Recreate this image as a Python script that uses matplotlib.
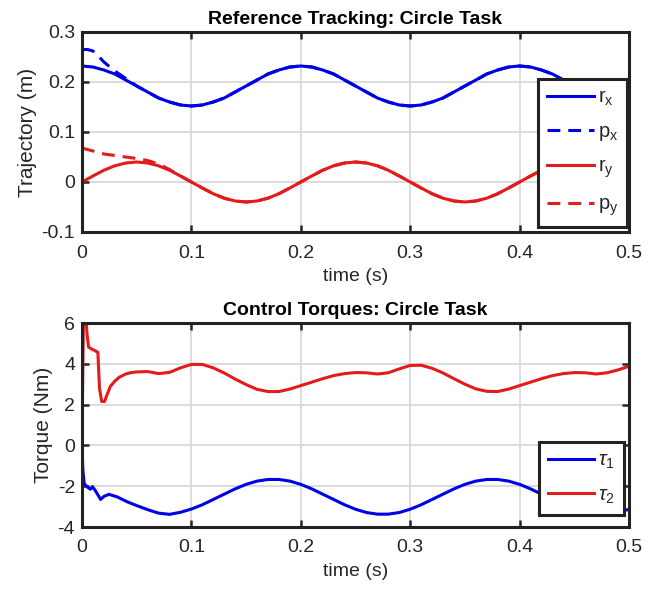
import numpy as np
import matplotlib
matplotlib.use("Agg")
import matplotlib.pyplot as plt

# ---------------- data ----------------
time_s = np.linspace(0, 0.5, 51)
r_x = [0.232, 0.230, 0.224, 0.216, 0.204, 0.192, 0.180, 0.168, 0.160, 0.154,
       0.152, 0.154, 0.160, 0.168, 0.180, 0.192, 0.204, 0.216, 0.224, 0.230,
       0.232, 0.230, 0.224, 0.216, 0.204, 0.192, 0.180, 0.168, 0.160, 0.154,
       0.152, 0.154, 0.160, 0.168, 0.180, 0.192, 0.204, 0.216, 0.224, 0.230,
       0.232, 0.230, 0.224, 0.216, 0.204, 0.192, 0.180, 0.168, 0.160, 0.154,
       0.152]
r_y = [0.0, 0.012, 0.0235, 0.0324, 0.038, 0.040, 0.038, 0.0324, 0.0235, 0.012,
       0.0, -0.012, -0.0235, -0.0324, -0.038, -0.040, -0.038, -0.0324, -0.0235, -0.012,
       0.0, 0.012, 0.0235, 0.0324, 0.038, 0.040, 0.038, 0.0324, 0.0235, 0.012,
       0.0, -0.012, -0.0235, -0.0324, -0.038, -0.040, -0.038, -0.0324, -0.0235, -0.012,
       0.0, 0.012, 0.0235, 0.0324, 0.038, 0.040, 0.038, 0.0324, 0.0235, 0.012,
       0.0]

# transient of the actual position before it joins the reference
px_t_start = [0.0, 0.005, 0.01, 0.015, 0.02, 0.03, 0.04, 0.05, 0.06, 0.07]
px_start = [0.265, 0.265, 0.262, 0.252, 0.240, 0.222, 0.207, 0.192, 0.180, 0.168]
py_t_start = [0.0, 0.01, 0.02, 0.03, 0.04, 0.05, 0.06, 0.07, 0.08]
py_start = [0.068, 0.062, 0.056, 0.053, 0.050, 0.047, 0.043, 0.036, 0.025]

p_x_t = list(px_t_start) + list(time_s[8:])
p_x = list(px_start) + list(r_x[8:])
p_y_t = list(py_t_start) + list(time_s[9:])
p_y = list(py_start) + list(r_y[9:])

tau_grid = list(np.linspace(0.05, 0.5, 46))
tau1_t_start = [0.0, 0.0008, 0.002, 0.0046, 0.0077, 0.0095, 0.012, 0.0154, 0.017,
                0.020, 0.0246, 0.032, 0.0415]
tau1_start = [0.0, -1.2, -1.87, -2.03, -2.15, -2.02, -2.2, -2.5, -2.65,
              -2.5, -2.4, -2.52, -2.77]
tau1_grid = [-2.95, -3.15, -3.32, -3.38, -3.28,
             -3.12, -2.91, -2.65, -2.39, -2.13, -1.91, -1.75, -1.67, -1.67, -1.75,
             -1.91, -2.13, -2.39, -2.65, -2.91, -3.13, -3.29, -3.37, -3.37, -3.29,
             -3.13, -2.91, -2.65, -2.39, -2.13, -1.91, -1.75, -1.67, -1.67, -1.75,
             -1.91, -2.13, -2.39, -2.65, -2.91, -3.13, -3.29, -3.37, -3.37, -3.29,
             -3.13]
tau2_t_start = [0.0, 0.0008, 0.0015, 0.003, 0.0045, 0.006, 0.009, 0.012, 0.0145,
                0.016, 0.018, 0.0205, 0.023, 0.026, 0.03, 0.034, 0.04, 0.045]
tau2_start = [0.0, 4.0, 7.0, 7.0, 5.5, 4.82, 4.72, 4.64, 4.56,
              2.8, 2.15, 2.15, 2.5, 2.9, 3.15, 3.34, 3.5, 3.57]
tau2_grid = [3.6, 3.62, 3.52, 3.58, 3.8,
             3.97, 3.97, 3.8, 3.55, 3.25, 2.98, 2.75, 2.64, 2.64, 2.76,
             2.93, 3.1, 3.27, 3.42, 3.52, 3.57, 3.56, 3.5, 3.56, 3.75,
             3.92, 3.93, 3.78, 3.55, 3.27, 3.0, 2.77, 2.65, 2.64, 2.76,
             2.93, 3.1, 3.27, 3.42, 3.52, 3.57, 3.56, 3.5, 3.56, 3.7,
             3.88]
tau1_t = tau1_t_start + tau_grid
tau1 = tau1_start + tau1_grid
tau2_t = tau2_t_start + tau_grid
tau2 = tau2_start + tau2_grid

x_ticks = [0, 0.1, 0.2, 0.3, 0.4, 0.5]
x_labels = ["0", "0.1", "0.2", "0.3", "0.4", "0.5"]
y1_ticks = [-0.1, 0, 0.1, 0.2, 0.3]
y1_labels = ["-0.1", "0", "0.1", "0.2", "0.3"]
y2_ticks = [-4, -2, 0, 2, 4, 6]
y2_labels = ["-4", "-2", "0", "2", "4", "6"]

# ---------------- style ----------------
fam = "Liberation Sans"
plt.rcParams["font.family"] = [fam, "DejaVu Sans"]
plt.rcParams["mathtext.fontset"] = "custom"
plt.rcParams["mathtext.rm"] = fam
plt.rcParams["mathtext.it"] = fam + ":italic"
plt.rcParams["axes.unicode_minus"] = False

BLUE = "#0000e6"
RED = "#e31b1b"
TXT = "#262626"

fig = plt.figure(figsize=(6.63, 5.90), dpi=100)
ax1 = fig.add_axes([82 / 663, 1 - 232 / 590, 547 / 663, 200 / 590])
ax2 = fig.add_axes([82 / 663, 1 - 527 / 590, 547 / 663, 204 / 590])

lw = 2.2
dash = (0, (4.2, 2.6))
ax1.plot(time_s, r_x, color=BLUE, lw=lw, label=r"r$_\mathregular{x}$")
ax1.plot(p_x_t, p_x, color=BLUE, lw=lw, ls=dash, label=r"p$_\mathregular{x}$")
ax1.plot(time_s, r_y, color=RED, lw=lw, label=r"r$_\mathregular{y}$")
ax1.plot(p_y_t, p_y, color=RED, lw=lw, ls=dash, label=r"p$_\mathregular{y}$")

ax2.plot(tau1_t, tau1, color=BLUE, lw=lw, label=r"$\tau_\mathregular{1}$")
ax2.plot(tau2_t, tau2, color=RED, lw=lw, label=r"$\tau_\mathregular{2}$")


def style(ax, yt, yl, ylim, ylabel, title):
    ax.set_xlim(0, 0.5)
    ax.set_ylim(*ylim)
    ax.set_xticks(x_ticks)
    ax.set_xticklabels(x_labels)
    ax.set_yticks(yt)
    ax.set_yticklabels(yl)
    ax.grid(True, color="#d6d6d6", lw=1.2)
    ax.set_axisbelow(True)
    ax.tick_params(direction="in", length=5, width=1.8, top=True, right=True,
                   labelsize=14, colors=TXT, pad=5)
    ax.tick_params(axis="x", pad=9)
    for s in ax.spines.values():
        s.set_linewidth(2.2)
        s.set_color("#222222")
    ax.set_xlabel("time (s)", fontsize=14, color=TXT, labelpad=5)
    ax.set_ylabel(ylabel, fontsize=15, color=TXT, labelpad=3)
    ax.set_title(title, fontsize=14, fontweight="bold", color="black", pad=6)


style(ax1, y1_ticks, y1_labels, (-0.1, 0.3), "Trajectory (m)", "Reference Tracking: Circle Task")
style(ax2, y2_ticks, y2_labels, (-4, 6), "Torque (Nm)", "Control Torques: Circle Task")

for ax, anchor in ((ax1, (0.834, 0.767)), (ax2, (0.835, 0.417))):
    leg = ax.legend(loc="upper left", bbox_to_anchor=anchor, borderaxespad=0,
                    fontsize=14.5, handlelength=2.3, handletextpad=0.2,
                    labelspacing=0.7, borderpad=0.45, fancybox=False,
                    framealpha=1, edgecolor="#222222")
    leg.get_frame().set_linewidth(2.2)
    for t in leg.get_texts():
        t.set_color(TXT)

fig.savefig("out.png", dpi=100)
